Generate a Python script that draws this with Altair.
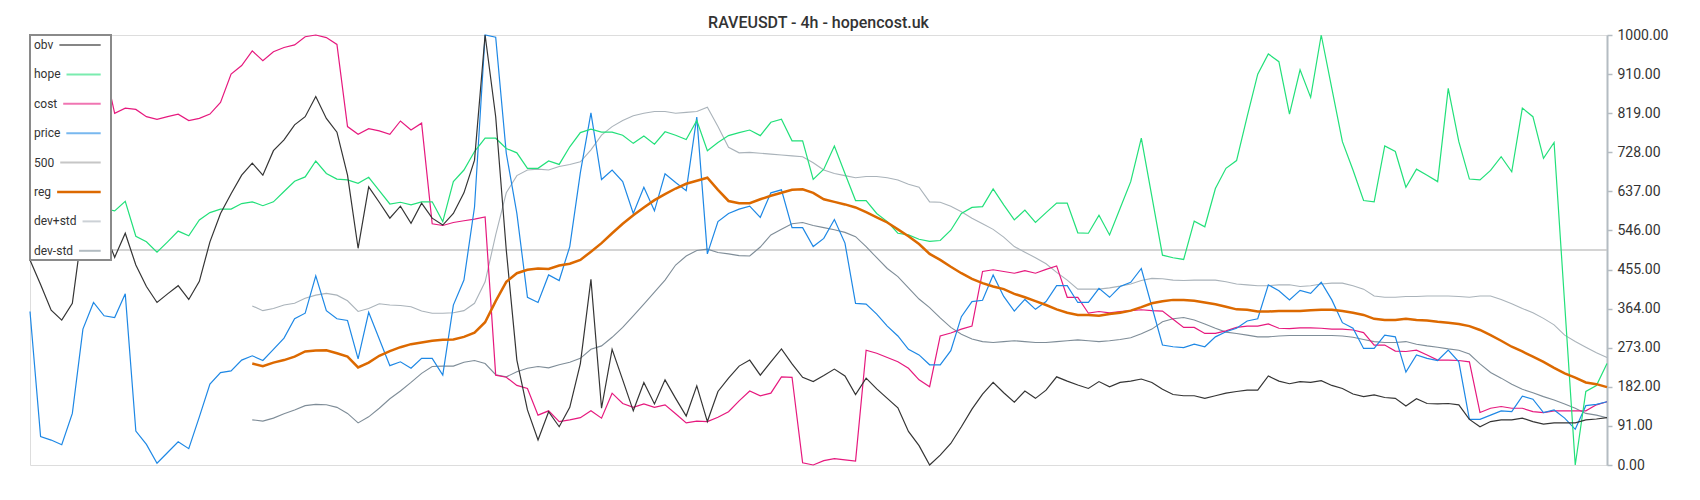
import altair as alt
import pandas as pd

# ---------------- data (normalised 0..1000, one value per 4h bar) ----------------
N_BARS = 150
BAND_START = 21  # reg / dev bands start at this bar

obv = [477, 420, 360, 337, 376, 560, 590, 547, 483, 539,
       465, 415, 378, 398, 417, 385, 427, 519, 585, 631,
       674, 702, 674, 731, 756, 791, 810, 857, 806, 774,
       674, 504, 647, 611, 574, 602, 562, 609, 574, 558,
       585, 633, 709, 1000, 810, 500, 244, 128, 58, 124,
       89, 134, 236, 432, 132, 269, 198, 126, 192, 142,
       198, 155, 114, 184, 101, 171, 202, 230, 244, 209,
       240, 270, 235, 204, 194, 208, 223, 207, 164, 202,
       177, 155, 133, 78, 45, 0, 23, 50, 89, 130,
       165, 192, 168, 146, 172, 155, 174, 205, 195, 186,
       178, 194, 182, 192, 195, 200, 192, 176, 164, 161,
       161, 155, 161, 167, 171, 174, 174, 207, 195, 189,
       194, 192, 196, 185, 178, 165, 159, 163, 157, 155,
       137, 154, 143, 142, 143, 140, 106, 89, 101, 105,
       105, 109, 101, 95, 98, 98, 98, 105, 107, 110]

hope = [640, 625, 610, 600, 605, 595, 600, 596, 591, 613,
        532, 519, 495, 519, 544, 533, 570, 587, 595, 595,
        608, 612, 603, 612, 636, 660, 670, 707, 678, 665,
        663, 655, 669, 638, 607, 611, 605, 612, 612, 566,
        659, 686, 729, 760, 760, 736, 726, 690, 690, 707,
        699, 740, 773, 781, 774, 774, 767, 748, 765, 746,
        775, 767, 757, 801, 731, 750, 766, 773, 779, 766,
        797, 804, 754, 754, 664, 688, 742, 678, 615, 615,
        585, 566, 539, 535, 525, 520, 522, 546, 585, 599,
        601, 642, 605, 570, 593, 564, 587, 609, 609, 540,
        539, 581, 535, 597, 659, 760, 624, 488, 482, 478,
        567, 554, 643, 690, 708, 810, 909, 956, 938, 816,
        919, 855, 1000, 876, 752, 686, 615, 612, 742, 729,
        646, 688, 674, 659, 876, 752, 665, 663, 685, 717,
        682, 830, 810, 713, 750, 375, 0, 171, 185, 236]

cost = [990, 985, 975, 965, 955, 950, 940, 930, 818, 830,
        827, 810, 804, 810, 816, 801, 806, 816, 843, 909,
        929, 963, 940, 961, 971, 977, 996, 1000, 994, 978,
        787, 769, 782, 777, 769, 800, 779, 795, 561, 557,
        564, 568, 572, 577, 209, 204, 185, 178, 116, 126,
        101, 105, 110, 126, 109, 167, 143, 134, 142, 134,
        140, 119, 98, 102, 101, 111, 124, 149, 172, 161,
        167, 205, 204, 5, 0, 10, 15, 12, 9, 267,
        260, 250, 240, 225, 198, 182, 300, 307, 316, 323,
        450, 454, 450, 446, 452, 446, 455, 463, 390, 390,
        353, 357, 354, 357, 359, 361, 359, 358, 339, 320,
        320, 306, 306, 312, 320, 323, 323, 328, 318, 317,
        319, 319, 318, 316, 316, 314, 308, 279, 279, 265,
        264, 267, 256, 244, 244, 243, 240, 122, 132, 136,
        132, 132, 124, 122, 126, 126, 126, 126, 140, 147]

price = [357, 66, 58, 47, 120, 316, 378, 347, 343, 398,
         79, 48, 4, 29, 54, 38, 112, 188, 215, 219,
         244, 254, 243, 269, 295, 340, 353, 440, 359, 340,
         336, 247, 355, 293, 231, 240, 225, 248, 248, 209,
         372, 430, 600, 1000, 995, 725, 585, 390, 378, 442,
         429, 508, 680, 819, 664, 686, 659, 585, 646, 591,
         677, 657, 638, 809, 491, 566, 585, 595, 602, 576,
         633, 640, 552, 552, 508, 527, 571, 516, 376, 374,
         351, 323, 300, 269, 256, 233, 233, 266, 345, 380,
         383, 442, 392, 358, 385, 362, 380, 417, 417, 378,
         378, 411, 390, 415, 425, 457, 368, 279, 275, 273,
         281, 275, 298, 310, 318, 335, 340, 419, 405, 384,
         406, 399, 425, 384, 331, 318, 271, 271, 302, 298,
         216, 256, 248, 243, 267, 240, 106, 106, 116, 126,
         124, 160, 153, 122, 128, 109, 83, 138, 141, 147]

level_500 = 500

reg = [236, 230, 238, 244, 252, 264, 266, 267, 260,
       252, 227, 238, 254, 265, 274, 281, 285, 289, 291,
       292, 298, 308, 332, 381, 426, 446, 454, 457, 456,
       464, 468, 477, 496, 516, 539, 561, 581, 599, 616,
       630, 643, 654, 661, 668, 640, 614, 609, 609, 618,
       626, 633, 640, 641, 633, 618, 612, 606, 599, 588,
       576, 564, 548, 532, 514, 491, 477, 461, 446, 433,
       423, 415, 409, 398, 390, 381, 372, 362, 354, 349,
       349, 347, 351, 354, 359, 367, 376, 381, 384, 384,
       382, 378, 374, 368, 362, 361, 357, 357, 358, 358,
       358, 360, 361, 361, 358, 354, 349, 340, 337, 337,
       340, 337, 336, 333, 331, 328, 323, 314, 302, 289,
       275, 264, 252, 240, 226, 213, 203, 192, 188, 181]

dev_plus_std = [370, 359, 364, 372, 376, 388, 395, 399, 395,
                382, 357, 364, 375, 372, 371, 368, 358, 353, 353,
                354, 359, 376, 426, 535, 633, 673, 686, 688, 686,
                694, 699, 705, 733, 767, 787, 801, 812, 818, 822,
                822, 818, 820, 822, 832, 787, 739, 726, 727, 725,
                723, 721, 719, 717, 703, 686, 678, 673, 668, 671,
                671, 668, 663, 653, 646, 612, 611, 602, 589, 574,
                561, 548, 530, 508, 495, 482, 468, 448, 430, 409,
                409, 409, 412, 416, 421, 429, 434, 433, 430, 429,
                430, 430, 430, 426, 421, 419, 417, 417, 419, 419,
                415, 417, 421, 423, 423, 417, 409, 393, 390, 390,
                392, 392, 393, 393, 393, 392, 390, 393, 393, 385,
                375, 364, 354, 341, 326, 302, 287, 274, 261, 250]

dev_minus_std = [105, 102, 109, 119, 128, 138, 141, 140, 134,
                 120, 98, 112, 132, 154, 172, 192, 213, 229, 230,
                 230, 239, 243, 236, 210, 205, 217, 225, 229, 226,
                 233, 239, 248, 269, 277, 297, 320, 347, 374, 402,
                 430, 465, 486, 499, 502, 494, 491, 487, 486, 507,
                 535, 548, 561, 564, 557, 552, 547, 541, 531, 508,
                 482, 457, 438, 412, 386, 366, 342, 320, 304, 293,
                 287, 285, 287, 289, 287, 285, 285, 287, 289, 291,
                 289, 287, 289, 292, 296, 305, 316, 333, 340, 343,
                 337, 328, 318, 309, 306, 302, 298, 298, 300, 301,
                 301, 301, 301, 301, 300, 297, 292, 287, 285, 285,
                 287, 281, 277, 274, 270, 267, 258, 235, 215, 202,
                 188, 176, 168, 159, 151, 142, 132, 120, 116, 110]

tick_values = [k * 1000 / 11 for k in range(12)]
legend_names = ["obv", "hope", "cost", "price", "500", "reg", "dev+std", "dev-std"]
title_text = "RAVEUSDT - 4h - hopencost.uk"

# ---------------- styles ----------------
colors = {
    "obv": "#353535",
    "hope": "#22e07a",
    "cost": "#e6197e",
    "price": "#1e88e5",
    "500": "#c6c6c6",
    "reg": "#dc6900",
    "dev+std": "#aab3ba",
    "dev-std": "#7f8d98",
}
legend_opacity = {n: 0.6 for n in legend_names}
legend_opacity["500"] = 1.0
legend_opacity["reg"] = 1.0

FONT = "Roboto"
W, H = 1577, 430


def frame(values, start=0):
    return pd.DataFrame({"i": list(range(start, start + len(values))), "v": values})


x_enc = alt.X("i:Q", scale=alt.Scale(domain=[0, N_BARS - 1], nice=False, zero=False), axis=None)
y_scale = alt.Scale(domain=[0, 1000], nice=False)
y_axis = alt.Axis(
    orient="right",
    values=tick_values,
    labelExpr="format(ceil(datum.value), '.2f')",
    grid=False,
    domainColor="#b4bcc2",
    domainWidth=2,
    tickColor="#b4bcc2",
    tickWidth=1.5,
    tickSize=5,
    labelFont=FONT,
    labelFontSize=14,
    labelColor="#333333",
    labelPadding=5,
    title=None,
)


def y_enc():
    return alt.Y("v:Q", scale=y_scale, axis=y_axis)


def line(values, name, start=0, width=1.2):
    return (
        alt.Chart(frame(values, start))
        .mark_line(color=colors[name], strokeWidth=width)
        .encode(x=x_enc, y=y_enc())
    )


layers = []
layers.append(
    alt.Chart(pd.DataFrame({"v": [level_500]}))
    .mark_rule(color=colors["500"], strokeWidth=1.6)
    .encode(y=y_enc())
)
layers.append(line(dev_plus_std, "dev+std", BAND_START, 1.1))
layers.append(line(dev_minus_std, "dev-std", BAND_START, 1.1))
layers.append(line(cost, "cost"))
layers.append(line(price, "price"))
layers.append(line(hope, "hope"))
layers.append(line(obv, "obv"))
layers.append(line(reg, "reg", BAND_START, 2.5))

# ---------------- legend (label first, line sample after it) ----------------
dummy = pd.DataFrame({"d": [0]})
char_em = {"o": .570, "b": .560, "v": .484, "h": .551, "p": .560, "e": .529,
           "c": .523, "s": .515, "t": .326, "r": .338, "i": .243, "5": .562,
           "0": .562, "g": .560, "d": .563, "+": .566, "-": .276}
LEG_FS = 12
LEG_X = 4
ROW0 = 10
ROW_STEP = 29.4
SYM_END = 70.7
BOX_W, BOX_H = 81, 225

layers.append(
    alt.Chart(dummy)
    .mark_rect(fill="white", stroke="#8a8a8a", strokeWidth=2)
    .encode(x=alt.value(0), x2=alt.value(BOX_W), y=alt.value(0), y2=alt.value(BOX_H))
)
for k, name in enumerate(legend_names):
    yk = ROW0 + k * ROW_STEP
    text_w = sum(char_em.get(ch, 0.55) for ch in name) * LEG_FS
    sym_start = LEG_X + text_w + 6
    layers.append(
        alt.Chart(dummy)
        .mark_text(text=name, align="left", baseline="middle", font=FONT,
                   fontSize=LEG_FS, color="#333333")
        .encode(x=alt.value(LEG_X), y=alt.value(yk))
    )
    layers.append(
        alt.Chart(dummy)
        .mark_rule(color=colors[name], strokeWidth=2.5 if name == "reg" else 2,
                   opacity=legend_opacity[name])
        .encode(x=alt.value(sym_start), x2=alt.value(SYM_END), y=alt.value(yk))
    )

chart = (
    alt.layer(*layers)
    .properties(
        width=W,
        height=H,
        title=alt.TitleParams(title_text, font=FONT, fontSize=16, fontWeight=500,
                              color="#333333", anchor="middle", offset=5, dy=8),
        autosize=alt.AutoSizeParams(type="none"),
        padding={"left": 22, "top": 27, "right": 70, "bottom": 20},
    )
    .configure_view(strokeWidth=0)
    .configure(font=FONT)
)

chart.save("out.html", embed_options={"renderer": "svg", "actions": False})
